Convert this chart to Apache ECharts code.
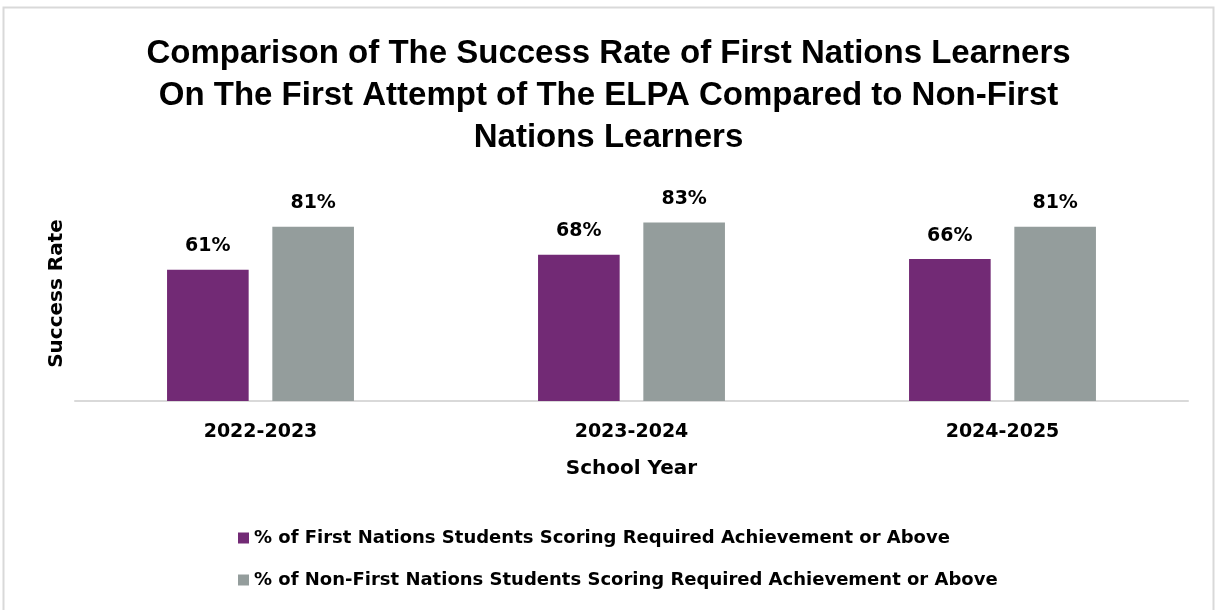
<!DOCTYPE html>
<html><head><meta charset="utf-8">
<script src="https://cdn.jsdelivr.net/npm/echarts@6/dist/echarts.min.js"></script>
<style>html,body{margin:0;padding:0;background:#fff}#c{width:1217px;height:610px}</style>
</head><body><div id="c"></div>
<script>
const categories = ['2022-2023', '2023-2024', '2024-2025'];
const firstNations = [61, 68, 66];
const nonFirstNations = [81, 83, 81];
const seriesNames = [
  '% of First Nations Students Scoring Required Achievement or Above',
  '% of Non-First Nations Students Scoring Required Achievement or Above'
];
const titleText = 'Comparison of The Success Rate of First Nations Learners\nOn The First Attempt of The ELPA Compared to Non-First\nNations Learners';

const chart = echarts.init(document.getElementById('c'));
const bold = "'DejaVu Sans', sans-serif";
chart.setOption({
  animation: false,
  backgroundColor: '#fff',
  graphic: [{
    type: 'rect', shape: {x: 3.5, y: 7.5, width: 1210, height: 610},
    style: {fill: 'none', stroke: '#d9d9d9', lineWidth: 2}, silent: true
  }],
  title: {
    text: titleText, left: 'center', top: 28,
    textStyle: {fontFamily: "'Liberation Sans', sans-serif", fontWeight: 'bold', fontSize: 33, lineHeight: 42, color: '#000'}
  },
  grid: {left: 75, right: 29, top: 186, bottom: 209, containLabel: false},
  xAxis: {
    type: 'category', data: categories,
    axisLine: {lineStyle: {color: '#d9d9d9', width: 2}},
    axisTick: {show: false},
    axisLabel: {fontFamily: bold, fontWeight: 'bold', fontSize: 19, color: '#000', margin: 22},
    name: 'School Year', nameLocation: 'middle', nameGap: 58,
    nameTextStyle: {fontFamily: bold, fontWeight: 'bold', fontSize: 20, color: '#000'}
  },
  yAxis: {
    type: 'value', min: 0, max: 100,
    axisLine: {show: false}, axisTick: {show: false}, axisLabel: {show: false},
    splitLine: {show: false},
    name: 'Success Rate', nameLocation: 'middle', nameGap: 8, nameRotate: 90,
    nameTextStyle: {fontFamily: bold, fontWeight: 'bold', fontSize: 20, color: '#000'}
  },
  legend: {
    orient: 'vertical', left: 233, top: 524, itemGap: 24,
    itemWidth: 11, itemHeight: 11, icon: 'rect',
    textStyle: {fontFamily: bold, fontWeight: 'bold', fontSize: 18, color: '#000'}
  },
  series: [
    {name: seriesNames[0], type: 'bar', data: firstNations, barWidth: '22%', barGap: '29%',
     itemStyle: {color: '#722a75'},
     label: {show: true, position: 'top', distance: 14, formatter: '{c}%', fontFamily: bold, fontWeight: 'bold', fontSize: 19, color: '#000'}},
    {name: seriesNames[1], type: 'bar', data: nonFirstNations, barWidth: '22%',
     itemStyle: {color: '#949d9c'},
     label: {show: true, position: 'top', distance: 14, formatter: '{c}%', fontFamily: bold, fontWeight: 'bold', fontSize: 19, color: '#000'}}
  ]
});
</script></body></html>
